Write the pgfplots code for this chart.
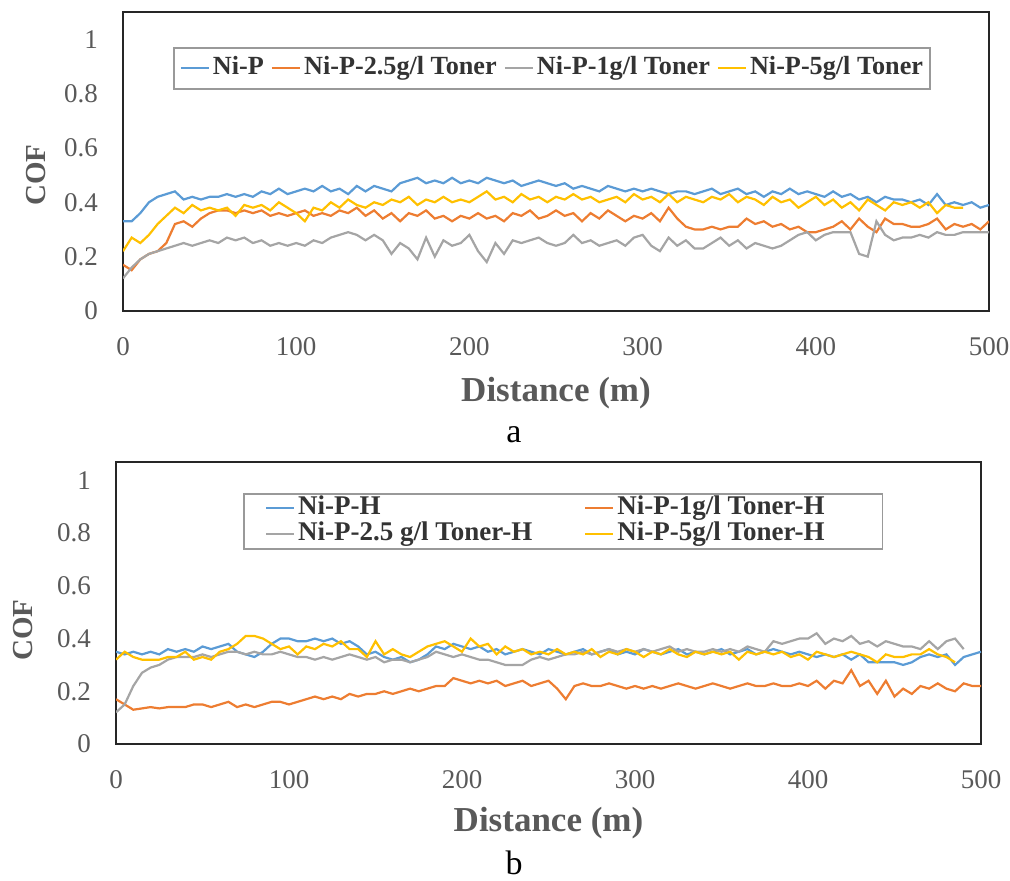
\documentclass[border=0pt]{standalone}
\usepackage{fontspec}
\setmainfont{Liberation Serif}
\usepackage{pgfplots}
\usepackage{pgfplotstable}
\pgfplotsset{compat=1.18}

\definecolor{xblue}{HTML}{5B9BD5}
\definecolor{xorange}{HTML}{ED7D31}
\definecolor{xgray}{HTML}{A5A5A5}
\definecolor{xyellow}{HTML}{FFC000}
\definecolor{txt}{HTML}{595959}

% panel a: Ni-P, 2.5 g/l, 1 g/l, 5 g/l toner
\pgfplotstableread{
x nip t25 t1 t5
0 0.33 0.17 0.12 0.22
5 0.33 0.15 0.16 0.27
10 0.36 0.19 0.19 0.25
15 0.40 0.21 0.21 0.28
20 0.42 0.22 0.22 0.32
25 0.43 0.25 0.23 0.35
30 0.44 0.32 0.24 0.38
35 0.41 0.33 0.25 0.36
40 0.42 0.31 0.24 0.39
45 0.41 0.34 0.25 0.37
50 0.42 0.36 0.26 0.38
55 0.42 0.37 0.25 0.37
60 0.43 0.37 0.27 0.38
65 0.42 0.36 0.26 0.35
70 0.43 0.37 0.27 0.39
75 0.42 0.36 0.25 0.38
80 0.44 0.37 0.26 0.39
85 0.43 0.35 0.24 0.37
90 0.45 0.36 0.25 0.40
95 0.43 0.35 0.24 0.38
100 0.44 0.36 0.25 0.36
105 0.45 0.37 0.24 0.33
110 0.44 0.35 0.26 0.38
115 0.46 0.36 0.25 0.37
120 0.44 0.35 0.27 0.40
125 0.45 0.37 0.28 0.38
130 0.43 0.36 0.29 0.41
135 0.46 0.38 0.28 0.39
140 0.44 0.35 0.26 0.38
145 0.46 0.37 0.28 0.40
150 0.45 0.34 0.26 0.39
155 0.44 0.36 0.21 0.41
160 0.47 0.33 0.25 0.40
165 0.48 0.36 0.23 0.42
170 0.49 0.35 0.19 0.39
175 0.47 0.37 0.27 0.41
180 0.48 0.34 0.20 0.40
185 0.47 0.35 0.26 0.42
190 0.49 0.33 0.24 0.40
195 0.47 0.35 0.25 0.41
200 0.48 0.34 0.28 0.40
205 0.47 0.36 0.22 0.42
210 0.49 0.34 0.18 0.44
215 0.48 0.35 0.25 0.41
220 0.47 0.33 0.21 0.42
225 0.48 0.36 0.26 0.40
230 0.46 0.35 0.25 0.43
235 0.47 0.37 0.26 0.41
240 0.48 0.34 0.27 0.42
245 0.47 0.35 0.25 0.40
250 0.46 0.37 0.24 0.42
255 0.47 0.35 0.25 0.41
260 0.45 0.36 0.28 0.43
265 0.46 0.33 0.25 0.41
270 0.45 0.36 0.26 0.42
275 0.44 0.34 0.24 0.40
280 0.46 0.37 0.25 0.41
285 0.45 0.35 0.26 0.42
290 0.44 0.33 0.24 0.40
295 0.45 0.35 0.27 0.43
300 0.44 0.34 0.28 0.41
305 0.45 0.36 0.24 0.42
310 0.44 0.33 0.22 0.40
315 0.43 0.38 0.27 0.43
320 0.44 0.34 0.24 0.40
325 0.44 0.31 0.26 0.42
330 0.43 0.30 0.23 0.41
335 0.44 0.30 0.23 0.40
340 0.45 0.31 0.25 0.42
345 0.43 0.30 0.27 0.41
350 0.44 0.31 0.24 0.43
355 0.45 0.31 0.26 0.40
360 0.43 0.34 0.23 0.42
365 0.44 0.32 0.25 0.41
370 0.42 0.33 0.24 0.39
375 0.44 0.31 0.23 0.42
380 0.43 0.32 0.24 0.40
385 0.45 0.30 0.26 0.41
390 0.43 0.31 0.28 0.38
395 0.44 0.29 0.29 0.40
400 0.43 0.29 0.26 0.42
405 0.42 0.30 0.28 0.39
410 0.44 0.31 0.29 0.41
415 0.42 0.33 0.29 0.38
420 0.43 0.30 0.29 0.40
425 0.41 0.34 0.21 0.37
430 0.42 0.31 0.20 0.41
435 0.40 0.29 0.33 0.39
440 0.42 0.34 0.28 0.37
445 0.41 0.32 0.26 0.40
450 0.41 0.32 0.27 0.39
455 0.40 0.31 0.27 0.40
460 0.41 0.31 0.28 0.38
465 0.39 0.32 0.27 0.40
470 0.43 0.34 0.29 0.36
475 0.39 0.30 0.28 0.39
480 0.40 0.32 0.28 0.38
485 0.39 0.31 0.29 0.38
490 0.40 0.32 0.29 nan
495 0.38 0.30 0.29 nan
500 0.39 0.33 0.29 nan
}\topdata

% panel b: heat treated (-H)
\pgfplotstableread{
x niph t1h t25h t5h
0 0.35 0.17 0.12 0.32
5 0.34 0.15 0.15 0.35
10 0.35 0.13 0.22 0.33
15 0.34 0.135 0.27 0.32
20 0.35 0.14 0.29 0.32
25 0.34 0.135 0.30 0.32
30 0.36 0.14 0.32 0.33
35 0.35 0.14 0.33 0.33
40 0.36 0.14 0.33 0.35
45 0.35 0.15 0.33 0.32
50 0.37 0.15 0.34 0.33
55 0.36 0.14 0.33 0.32
60 0.37 0.15 0.34 0.35
65 0.38 0.16 0.35 0.36
70 0.35 0.14 0.35 0.38
75 0.34 0.15 0.34 0.41
80 0.33 0.14 0.35 0.41
85 0.35 0.15 0.34 0.40
90 0.38 0.16 0.34 0.38
95 0.40 0.16 0.35 0.36
100 0.40 0.15 0.34 0.37
105 0.39 0.16 0.33 0.34
110 0.39 0.17 0.33 0.37
115 0.40 0.18 0.32 0.36
120 0.39 0.17 0.33 0.38
125 0.40 0.18 0.32 0.37
130 0.38 0.17 0.33 0.39
135 0.39 0.19 0.34 0.36
140 0.37 0.18 0.33 0.36
145 0.34 0.19 0.32 0.33
150 0.35 0.19 0.33 0.39
155 0.33 0.20 0.31 0.34
160 0.32 0.19 0.32 0.36
165 0.33 0.20 0.32 0.34
170 0.31 0.21 0.31 0.33
175 0.32 0.20 0.32 0.35
180 0.34 0.21 0.33 0.37
185 0.37 0.22 0.35 0.38
190 0.36 0.22 0.34 0.39
195 0.38 0.25 0.33 0.37
200 0.37 0.24 0.34 0.35
205 0.36 0.23 0.33 0.40
210 0.37 0.24 0.32 0.37
215 0.35 0.23 0.32 0.38
220 0.36 0.24 0.31 0.34
225 0.34 0.22 0.30 0.37
230 0.35 0.23 0.30 0.35
235 0.36 0.24 0.30 0.36
240 0.35 0.22 0.32 0.34
245 0.34 0.23 0.33 0.35
250 0.36 0.24 0.32 0.34
255 0.35 0.21 0.33 0.36
260 0.34 0.17 0.34 0.34
265 0.35 0.22 0.34 0.35
270 0.36 0.23 0.35 0.34
275 0.34 0.22 0.34 0.36
280 0.35 0.22 0.35 0.33
285 0.36 0.23 0.36 0.35
290 0.34 0.22 0.35 0.34
295 0.35 0.21 0.36 0.36
300 0.34 0.22 0.35 0.35
305 0.36 0.21 0.36 0.33
310 0.35 0.22 0.35 0.35
315 0.34 0.21 0.36 0.34
320 0.35 0.22 0.37 0.36
325 0.36 0.23 0.35 0.34
330 0.34 0.22 0.36 0.33
335 0.35 0.21 0.35 0.35
340 0.34 0.22 0.35 0.34
345 0.35 0.23 0.36 0.35
350 0.36 0.22 0.35 0.34
355 0.34 0.21 0.36 0.35
360 0.35 0.22 0.35 0.32
365 0.36 0.23 0.37 0.35
370 0.34 0.22 0.36 0.34
375 0.35 0.22 0.35 0.35
380 0.36 0.23 0.39 0.34
385 0.35 0.22 0.38 0.35
390 0.34 0.22 0.39 0.33
395 0.35 0.23 0.40 0.34
400 0.34 0.22 0.40 0.32
405 0.33 0.24 0.42 0.35
410 0.34 0.21 0.38 0.34
415 0.33 0.24 0.40 0.33
420 0.34 0.23 0.39 0.34
425 0.32 0.28 0.41 0.35
430 0.34 0.22 0.38 0.34
435 0.31 0.24 0.39 0.33
440 0.31 0.19 0.37 0.31
445 0.31 0.24 0.39 0.34
450 0.31 0.18 0.38 0.33
455 0.30 0.21 0.37 0.33
460 0.31 0.19 0.37 0.34
465 0.33 0.22 0.36 0.34
470 0.34 0.21 0.39 0.36
475 0.33 0.23 0.36 0.34
480 0.34 0.21 0.39 0.33
485 0.30 0.20 0.40 0.31
490 0.33 0.23 0.36 nan
495 0.34 0.22 nan nan
500 0.35 0.22 nan nan
}\botdata

\pgfplotsset{cofstyle/.style={
  scale only axis, xmin=0, xmax=500, ymin=0,
  xtick={0,100,200,300,400,500},
  ytick={0,0.2,0.4,0.6,0.8,1},
  yticklabels={0,0.2,0.4,0.6,0.8,1},
  major tick length=0pt,
  axis line style={black!85, line width=0.8pt},
  tick label style={font=\fontsize{13.5}{16}\selectfont, text=txt},
  /pgf/number format/assume math mode=true,
  xticklabel style={yshift=-9.5pt},
  yticklabel style={xshift=-9pt},
  xlabel={Distance (m)}, ylabel={COF},
  xlabel style={font=\fontsize{17.5}{20}\selectfont\bfseries, text=txt, anchor=base},
  ylabel style={font=\fontsize{14.5}{17}\selectfont\bfseries, text=txt, anchor=base},
  legend cell align=left,
  legend style={font=\fontsize{13.5}{16}\selectfont\bfseries, text=black!80,
    draw=black!40, line width=0.8pt, anchor=north west,
    nodes={inner xsep=0.5pt, inner ysep=0pt, text height=9.5pt, text depth=3.5pt},
    /tikz/every odd column/.append style={column sep=1pt}},
  legend image code/.code={\draw[#1] (0pt,0pt) -- (14pt,0pt);},
  every axis plot/.append style={line width=1.1pt, no markers},
}}

\begin{document}
\begin{tikzpicture}
\useasboundingbox (0,0) rectangle (505pt,440.5pt);

\begin{axis}[cofstyle, at={(61.5pt,285pt)}, anchor=south west,
  width=433pt, height=149.5pt, ymax=1.1,
  xlabel style={at={(axis description cs:0.5,0)}, yshift=-45.5pt},
  ylabel style={at={(axis description cs:-0.09,0.455)}},
  legend columns=4,
  legend style={at={(axis description cs:0.0577,0.883)}, inner xsep=3pt, inner ysep=3.75pt,
    font=\fontsize{13.1}{16}\selectfont\bfseries,
    /tikz/every even column/.append style={column sep=3pt}}]
\addplot[xblue] table[x=x,y=nip]{\topdata};
\addlegendentry{Ni-P}
\addplot[xorange] table[x=x,y=t25]{\topdata};
\addlegendentry{Ni-P-2.5g/l Toner}
\addplot[xgray] table[x=x,y=t1]{\topdata};
\addlegendentry{Ni-P-1g/l Toner}
\addplot[xyellow] table[x=x,y=t5]{\topdata};
\addlegendentry{Ni-P-5g/l Toner}
\end{axis}

\begin{axis}[cofstyle, at={(58pt,68.5pt)}, anchor=south west,
  width=432.5pt, height=141pt, ymax=1.07,
  xlabel style={at={(axis description cs:0.5,0)}, yshift=-44pt},
  ylabel style={at={(axis description cs:-0.096,0.404)}},
  legend columns=2,
  legend style={at={(axis description cs:0.147,0.890)}, inner xsep=10.5pt, inner ysep=0.75pt,
    /tikz/every even column/.append style={column sep=21pt}}]
\addplot[xblue] table[x=x,y=niph]{\botdata};
\addlegendentry{\makebox[121.5pt][l]{Ni-P-H}}
\addplot[xorange] table[x=x,y=t1h]{\botdata};
\addlegendentry{\makebox[121.5pt][l]{Ni-P-1g/l Toner-H}}
\addplot[xgray] table[x=x,y=t25h]{\botdata};
\addlegendentry{\makebox[121.5pt][l]{Ni-P-2.5 g/l Toner-H}}
\addplot[xyellow] table[x=x,y=t5h]{\botdata};
\addlegendentry{\makebox[121.5pt][l]{Ni-P-5g/l Toner-H}}
\end{axis}

\node[font=\fontsize{17}{20}\selectfont, anchor=base] at (257pt,219pt) {a};
\node[font=\fontsize{17}{20}\selectfont, anchor=base] at (257pt,3pt) {b};
\end{tikzpicture}
\end{document}
